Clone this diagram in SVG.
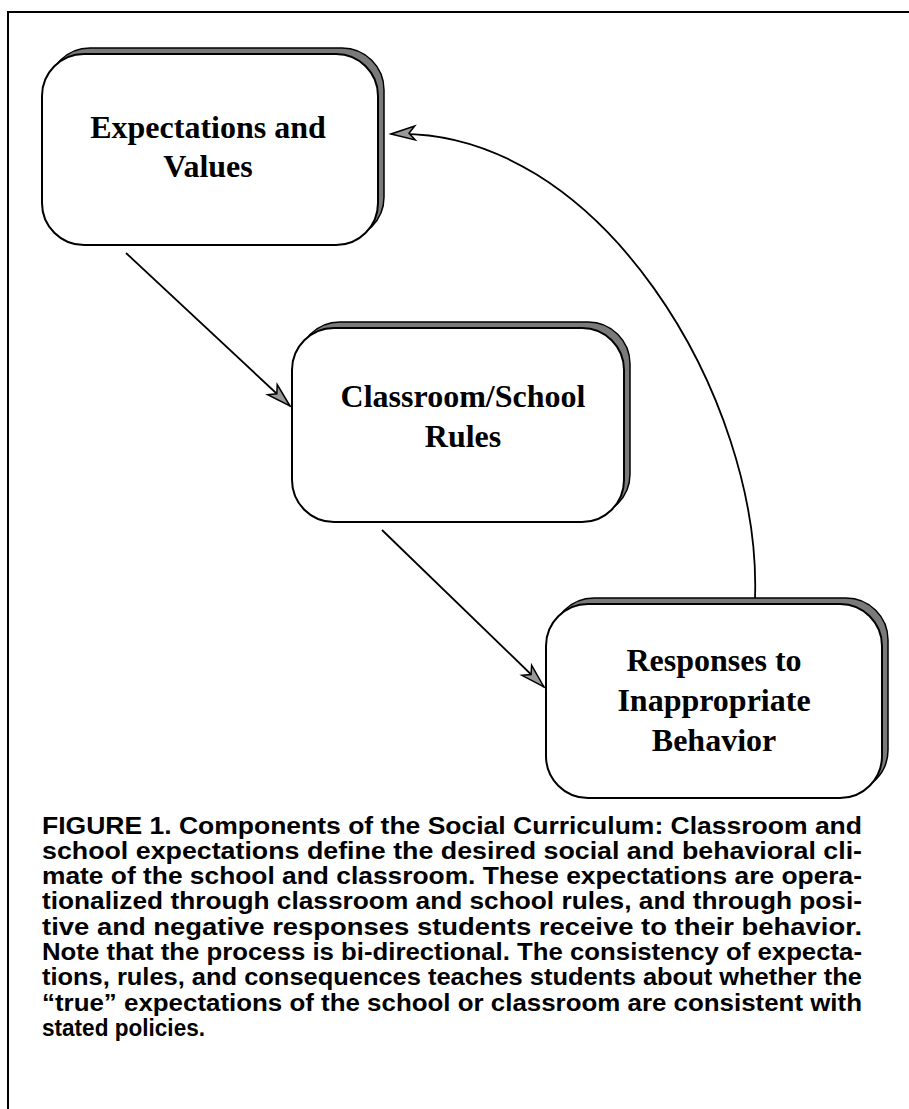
<svg xmlns="http://www.w3.org/2000/svg" width="909" height="1109" viewBox="0 0 909 1109">
<style>
.frame{fill:none;stroke:#000;stroke-width:2}
.shadow{fill:#7a7a7a;stroke:#000;stroke-width:1.5}
.box{fill:#fff;stroke:#000;stroke-width:2}
.label{font-family:"Liberation Serif","Times New Roman",serif;font-weight:bold;font-size:32px;fill:#000;text-anchor:middle}
.conn{fill:none;stroke:#000;stroke-width:1.8}
.cap{font-family:"Liberation Sans",Arial,sans-serif;font-weight:bold;font-size:23.5px;fill:#000}
</style>
<defs>
<marker id="arr" markerUnits="userSpaceOnUse" markerWidth="30" markerHeight="20" viewBox="-26 -10 28 20" refX="0" refY="0" orient="auto">
<path d="M0,0 L-24,-7 L-18,0 L-24,7 Z" fill="#999" stroke="#000" stroke-width="1.5" stroke-linejoin="miter"/>
</marker>
</defs>
<rect width="909" height="1109" fill="#fff"/>
<path class="frame" d="M8,1109 L8,12 L909,12"/>
<g id="connectors">
<path class="conn" d="M126,253 L290,406" marker-end="url(#arr)"/>
<path class="conn" d="M382,530 L544,687" marker-end="url(#arr)"/>
<path class="conn" d="M755,598 C762,400 600,125 391,134" marker-end="url(#arr)"/>
</g>
<g id="node-expectations">
<rect class="shadow" x="48" y="48" width="336" height="191" rx="42"/>
<rect class="box" x="42" y="54" width="336" height="191" rx="42"/>
<text class="label" x="208" y="138">Expectations and</text>
<text class="label" x="208" y="177">Values</text>
</g>
<g id="node-rules">
<rect class="shadow" x="298" y="322" width="332" height="194" rx="42"/>
<rect class="box" x="292" y="328" width="332" height="194" rx="42"/>
<text class="label" x="463" y="407">Classroom/School</text>
<text class="label" x="463" y="447">Rules</text>
</g>
<g id="node-responses">
<rect class="shadow" x="552" y="598" width="336" height="194" rx="42"/>
<rect class="box" x="546" y="604" width="336" height="194" rx="42"/>
<text class="label" x="714" y="671">Responses to</text>
<text class="label" x="714" y="711">Inappropriate</text>
<text class="label" x="714" y="751">Behavior</text>
</g>
<g id="caption">
<text class="cap" x="42" y="834" textLength="820" lengthAdjust="spacingAndGlyphs">FIGURE 1. Components of the Social Curriculum: Classroom and</text>
<text class="cap" x="42" y="859" textLength="820" lengthAdjust="spacingAndGlyphs">school expectations define the desired social and behavioral cli-</text>
<text class="cap" x="42" y="884" textLength="820" lengthAdjust="spacingAndGlyphs">mate of the school and classroom. These expectations are opera-</text>
<text class="cap" x="42" y="909" textLength="820" lengthAdjust="spacingAndGlyphs">tionalized through classroom and school rules, and through posi-</text>
<text class="cap" x="42" y="935" textLength="820" lengthAdjust="spacingAndGlyphs">tive and negative responses students receive to their behavior.</text>
<text class="cap" x="42" y="960" textLength="820" lengthAdjust="spacingAndGlyphs">Note that the process is bi-directional. The consistency of expecta-</text>
<text class="cap" x="42" y="985" textLength="820" lengthAdjust="spacingAndGlyphs">tions, rules, and consequences teaches students about whether the</text>
<text class="cap" x="42" y="1011" textLength="820" lengthAdjust="spacingAndGlyphs">“true” expectations of the school or classroom are consistent with</text>
<text class="cap" x="42" y="1036" textLength="163" lengthAdjust="spacingAndGlyphs">stated policies.</text>
</g>
</svg>
